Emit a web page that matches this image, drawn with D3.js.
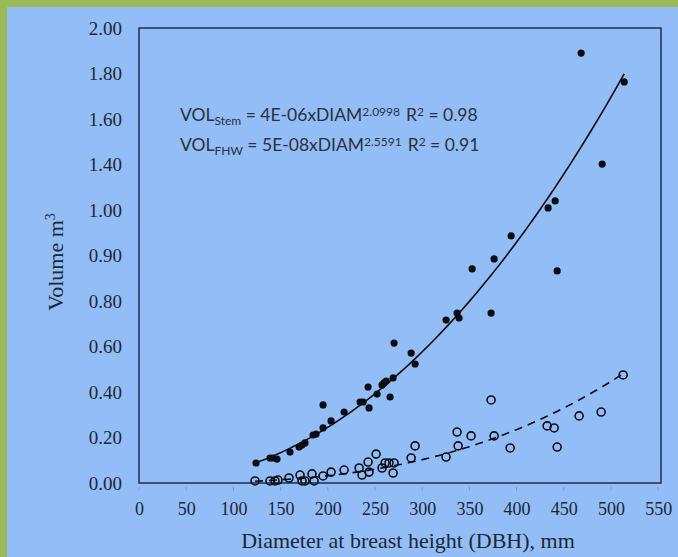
<!DOCTYPE html>
<html>
<head>
<meta charset="utf-8">
<script src="https://cdn.jsdelivr.net/npm/d3@7"></script>
<style>
  html, body { margin: 0; padding: 0; background: #93bdf6; }
  svg { display: block; }
</style>
</head>
<body>
<div id="chart"></div>
<script>
// --- Daten ---
// Schaftvolumen (gefüllte Punkte): Durchmesser in mm, Volumen in m³
const stemDiam = [124.0, 138.8, 142.0, 146.2, 160.0, 169.6, 172.7, 175.9, 184.4, 187.6,
  195.0, 195.0, 203.5, 217.3, 234.2, 237.4, 242.7, 243.7, 252.2, 257.5,
  259.6, 261.8, 266.0, 269.2, 270.2, 288.3, 292.5, 325.3, 337.0, 339.1,
  352.9, 373.0, 376.2, 394.2, 433.4, 440.9, 443.0, 468.4, 490.7, 514.0];
const stemVol = [0.088, 0.110, 0.110, 0.105, 0.136, 0.158, 0.167, 0.176, 0.211, 0.215,
  0.242, 0.343, 0.273, 0.312, 0.356, 0.356, 0.422, 0.330, 0.391, 0.431,
  0.440, 0.448, 0.378, 0.462, 0.615, 0.571, 0.523, 0.716, 0.747, 0.725,
  0.941, 0.747, 0.985, 1.086, 1.209, 1.240, 0.932, 1.890, 1.402, 1.763];

// FHW-Volumen (offene Kreise)
const fhwDiam = [122.9, 138.8, 144.1, 147.3, 158.9, 170.6, 172.7, 175.9, 183.3, 185.5,
  195.0, 203.5, 217.3, 233.2, 236.3, 242.7, 243.7, 251.2, 257.5, 260.7,
  264.9, 270.2, 269.2, 288.3, 292.5, 325.3, 337.0, 338.1, 351.8, 373.0,
  376.2, 393.2, 432.4, 439.8, 443.0, 466.3, 489.6, 512.9];
const fhwVol = [0.009, 0.009, 0.009, 0.013, 0.022, 0.035, 0.009, 0.009, 0.040, 0.009,
  0.031, 0.048, 0.057, 0.066, 0.035, 0.092, 0.048, 0.127, 0.066, 0.088,
  0.088, 0.088, 0.044, 0.110, 0.163, 0.114, 0.224, 0.163, 0.207, 0.365,
  0.207, 0.154, 0.251, 0.242, 0.158, 0.295, 0.312, 0.475];

// Achsenbeschriftungen (so wie im Original)
const xTicks = [0, 50, 100, 150, 200, 250, 300, 350, 400, 450, 500, 550];
const yTicks = [0, 0.2, 0.4, 0.6, 0.8, 1.0, 1.2, 1.4, 1.6, 1.8, 2.0];
const yTickLabels = ["0.00", "0.20", "0.40", "0.60", "0.80", "0.90", "1.00", "1.40", "1.60", "1.80", "2.00"];

// --- Layout ---
const W = 678, H = 557;
const plot = { left: 139, top: 28, right: 661, bottom: 483 };
const textColor = "#1c2738";
const markColor = "#0b0d14";

const svg = d3.select("#chart").append("svg")
  .attr("width", W)
  .attr("height", H);

// Hintergrund + grüner Rand oben/links
svg.append("rect").attr("width", W).attr("height", H).attr("fill", "#9bbb59");
svg.append("rect").attr("x", 7).attr("y", 7).attr("width", W - 7).attr("height", H - 7).attr("fill", "#93bdf6");

// Skalen
const x = d3.scaleLinear().domain([0, 553]).range([plot.left, plot.right]);
const y = d3.scaleLinear().domain([0, 2.0]).range([plot.bottom, plot.top]);

// Rahmen des Plotbereichs
svg.append("rect")
  .attr("x", plot.left)
  .attr("y", plot.top)
  .attr("width", plot.right - plot.left)
  .attr("height", plot.bottom - plot.top)
  .attr("fill", "none")
  .attr("stroke", "#1d2f4c")
  .attr("stroke-width", 1.5);

// kleine Tickstriche unter der x-Achse
svg.append("g")
  .selectAll("line")
  .data(xTicks)
  .enter()
  .append("line")
  .attr("x1", d => x(d)).attr("x2", d => x(d))
  .attr("y1", plot.bottom + 4).attr("y2", plot.bottom + 8)
  .attr("stroke", "#7d9bc9")
  .attr("stroke-width", 1);

// X-Achse (nur Beschriftung)
const xAxis = svg.append("g")
  .attr("transform", `translate(0,${plot.bottom})`)
  .call(d3.axisBottom(x).tickValues(xTicks).tickSize(0).tickPadding(19));
xAxis.select(".domain").remove();
xAxis.selectAll("text")
  .attr("font-family", "'Liberation Serif', 'Times New Roman', serif")
  .attr("font-size", 18)
  .attr("fill", textColor);

// Y-Achse mit den Original-Labels
const yAxis = svg.append("g")
  .attr("transform", `translate(${plot.left},0)`)
  .call(d3.axisLeft(y).tickValues(yTicks).tickSize(0).tickPadding(17)
    .tickFormat((d, i) => yTickLabels[i]));
yAxis.select(".domain").remove();
yAxis.selectAll("text")
  .attr("font-family", "'Liberation Serif', 'Times New Roman', serif")
  .attr("font-size", 19)
  .attr("fill", textColor);

// Achsentitel
svg.append("text")
  .attr("x", 408)
  .attr("y", 548)
  .attr("text-anchor", "middle")
  .attr("font-family", "'Liberation Serif', 'Times New Roman', serif")
  .attr("font-size", 22)
  .attr("fill", textColor)
  .text("Diameter at breast height (DBH), mm");

const yTitle = svg.append("text")
  .attr("transform", "translate(63,262) rotate(-90)")
  .attr("text-anchor", "middle")
  .attr("font-family", "'Liberation Serif', 'Times New Roman', serif")
  .attr("font-size", 22)
  .attr("fill", textColor);
yTitle.append("tspan").text("Volume m");
yTitle.append("tspan").attr("dy", -8).attr("font-size", 14).text("3");

// Potenz-Regression (wie Excel-Trendlinie: log-log kleinste Quadrate)
function powerFit(xs, ys) {
  const n = xs.length;
  const lx = xs.map(Math.log), ly = ys.map(Math.log);
  const sx = d3.sum(lx), sy = d3.sum(ly);
  const sxy = d3.sum(lx, (v, i) => v * ly[i]);
  const sxx = d3.sum(lx, v => v * v);
  const b = (n * sxy - sx * sy) / (n * sxx - sx * sx);
  const a = Math.exp((sy - b * sx) / n);
  return { a, b };
}

function trendPoints(xs, ys) {
  const fit = powerFit(xs, ys);
  const [lo, hi] = d3.extent(xs);
  return d3.range(0, 101).map(k => {
    const d = lo + (hi - lo) * k / 100;
    return { x: d, y: fit.a * Math.pow(d, fit.b) };
  });
}

const line = d3.line().x(d => x(d.x)).y(d => y(d.y));

// Trendlinien
svg.append("path")
  .datum(trendPoints(stemDiam, stemVol))
  .attr("fill", "none")
  .attr("stroke", markColor)
  .attr("stroke-width", 1.6)
  .attr("d", line);

svg.append("path")
  .datum(trendPoints(fhwDiam, fhwVol))
  .attr("fill", "none")
  .attr("stroke", markColor)
  .attr("stroke-width", 1.6)
  .attr("stroke-dasharray", "8,6")
  .attr("d", line);

// Punkte
svg.append("g")
  .selectAll("circle")
  .data(fhwDiam.map((d, i) => ({ x: d, y: fhwVol[i] })))
  .enter()
  .append("circle")
  .attr("cx", d => x(d.x))
  .attr("cy", d => y(d.y))
  .attr("r", 4)
  .attr("fill", "none")
  .attr("stroke", markColor)
  .attr("stroke-width", 1.6);

svg.append("g")
  .selectAll("circle")
  .data(stemDiam.map((d, i) => ({ x: d, y: stemVol[i] })))
  .enter()
  .append("circle")
  .attr("cx", d => x(d.x))
  .attr("cy", d => y(d.y))
  .attr("r", 3.6)
  .attr("fill", markColor);

// Gleichungen
const eqFont = "Lato, 'Open Sans', sans-serif";
const eqColor = "#2a3140";
function equation(yPos, sub, coef, exp, r2) {
  const t = svg.append("text")
    .attr("x", 180)
    .attr("y", yPos)
    .attr("font-family", eqFont)
    .attr("font-size", 17.5)
    .attr("fill", eqColor);
  t.append("tspan").text("VOL");
  t.append("tspan").attr("dy", 4).attr("font-size", 12).text(sub);
  t.append("tspan").attr("dy", -4).text(` = ${coef}xDIAM`);
  t.append("tspan").attr("dy", -5).attr("font-size", 12).text(exp);
  t.append("tspan").attr("dy", 5).attr("dx", 6).text("R");
  t.append("tspan").attr("dy", -5).attr("font-size", 12).text("2");
  t.append("tspan").attr("dy", 5).text(` = ${r2}`);
}
equation(121, "Stem", "4E-06", "2.0998", "0.98");
equation(151, "FHW", "5E-08", "2.5591", "0.91");
</script>
</body>
</html>
